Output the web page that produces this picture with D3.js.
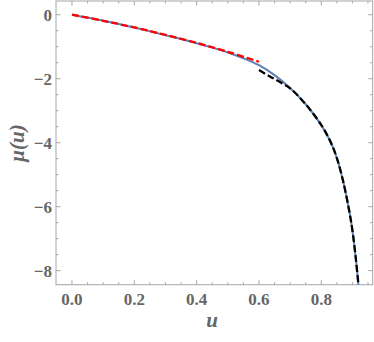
<!DOCTYPE html>
<html>
<head>
<meta charset="utf-8">
<script src="https://cdn.jsdelivr.net/npm/d3@7"></script>
<style>
  body { margin: 0; background: #fff; }
  svg { display: block; }
</style>
</head>
<body>
<div id="chart"></div>
<script>
// values
const uFull = [0, 0.05, 0.1, 0.15, 0.2, 0.25, 0.3, 0.35, 0.4, 0.45, 0.5, 0.55, 0.6, 0.65, 0.7, 0.75, 0.8, 0.83, 0.85, 0.87, 0.89, 0.9, 0.91, 0.92, 0.925];
const muFull = [0, -0.09, -0.19, -0.29, -0.40, -0.52, -0.64, -0.76, -0.89, -1.03, -1.18, -1.36, -1.58, -1.89, -2.29, -2.8, -3.45, -3.98, -4.48, -5.2, -6.15, -6.75, -7.55, -8.55, -9.3];

const uSmall = [0, 0.1, 0.2, 0.3, 0.4, 0.5, 0.6];
const muSmall = [0, -0.19, -0.40, -0.63, -0.88, -1.16, -1.47];

const uLarge = [0.6, 0.635, 0.67, 0.7, 0.75, 0.8, 0.83, 0.85, 0.87, 0.89, 0.9, 0.91, 0.92, 0.925];
const muLarge = [-1.73, -1.93, -2.12, -2.3, -2.8, -3.45, -3.98, -4.48, -5.2, -6.15, -6.75, -7.55, -8.55, -9.3];

const xTicks = [0, 0.2, 0.4, 0.6, 0.8];
const yTicks = [-8, -6, -4, -2, 0];

const W = 374, H = 342;
const margin = { top: 1, right: 1.3, bottom: 57.3, left: 56 };
const w = W - margin.left - margin.right;
const h = H - margin.top - margin.bottom;

const x = d3.scaleLinear().domain([-0.0513, 0.965]).range([0, w]);
const y = d3.scaleLinear().domain([0.428, -8.44]).range([0, h]);

const svg = d3.select("#chart").append("svg").attr("width", W).attr("height", H);
const g = svg.append("g").attr("transform", `translate(${margin.left},${margin.top})`);

svg.append("defs").append("clipPath").attr("id", "clip")
  .append("rect").attr("width", w).attr("height", h);

const frameColor = "#a6a6a6";
const labelColor = "#666";
const fmtNum = v => (v < 0 ? "\u2212" : "") + Math.abs(v);

// frame
g.append("rect").attr("width", w).attr("height", h)
  .attr("fill", "none").attr("stroke", frameColor).attr("stroke-width", 1);

// ticks (inward, on all four sides)
const xMinor = d3.range(0, 0.96, 0.05).filter(v => !xTicks.some(t => Math.abs(t - v) < 1e-6));
const yMinor = d3.range(0, -8.5, -0.5).filter(v => !yTicks.some(t => Math.abs(t - v) < 1e-6));

const tickG = g.append("g").attr("stroke", frameColor).attr("stroke-width", 1);
const xt = [...xTicks.map(v => [v, 4.5]), ...xMinor.map(v => [v, 2.5])];
const yt = [...yTicks.map(v => [v, 4.5]), ...yMinor.map(v => [v, 2.5])];
xt.forEach(([v, len]) => {
  tickG.append("line").attr("x1", x(v)).attr("x2", x(v)).attr("y1", h).attr("y2", h - len);
  tickG.append("line").attr("x1", x(v)).attr("x2", x(v)).attr("y1", 0).attr("y2", len);
});
yt.forEach(([v, len]) => {
  tickG.append("line").attr("y1", y(v)).attr("y2", y(v)).attr("x1", 0).attr("x2", len);
  tickG.append("line").attr("y1", y(v)).attr("y2", y(v)).attr("x1", w).attr("x2", w - len);
});

// tick labels
const tickFont = "'Liberation Serif', 'Times New Roman', serif";
g.selectAll(".xlab").data(xTicks).join("text")
  .attr("x", d => x(d)).attr("y", h + 20.5)
  .attr("text-anchor", "middle")
  .attr("font-family", tickFont).attr("font-weight", "bold").attr("font-size", 17)
  .attr("fill", labelColor)
  .text(d => d.toFixed(1));

g.selectAll(".ylab").data(yTicks).join("text")
  .attr("x", -4).attr("y", d => y(d)).attr("dy", "0.35em")
  .attr("text-anchor", "end")
  .attr("font-family", tickFont).attr("font-weight", "bold").attr("font-size", 17)
  .attr("fill", labelColor)
  .text(fmtNum);

// axis titles
svg.append("text")
  .attr("x", 212).attr("y", 327)
  .attr("text-anchor", "middle")
  .attr("font-family", tickFont).attr("font-weight", "bold").attr("font-style", "italic")
  .attr("font-size", 21).attr("fill", labelColor)
  .text("u");

svg.append("text")
  .attr("transform", "translate(24,143) rotate(-90)")
  .attr("text-anchor", "middle")
  .attr("font-family", tickFont).attr("font-weight", "bold").attr("font-style", "italic")
  .attr("font-size", 21).attr("fill", labelColor)
  .text("\u03bc(u)");

// curves
const line = d3.line().x(d => x(d[0])).y(d => y(d[1])).curve(d3.curveCatmullRom);
const plot = g.append("g").attr("clip-path", "url(#clip)");

plot.append("path")
  .attr("d", line(d3.zip(uFull, muFull)))
  .attr("fill", "none").attr("stroke", "#5e81b5").attr("stroke-width", 2);

plot.append("path")
  .attr("d", line(d3.zip(uSmall, muSmall)))
  .attr("fill", "none").attr("stroke", "#ff0000").attr("stroke-width", 2.3)
  .attr("stroke-dasharray", "7,3");

plot.append("path")
  .attr("d", line(d3.zip(uLarge, muLarge)))
  .attr("fill", "none").attr("stroke", "#000").attr("stroke-width", 2.3)
  .attr("stroke-dasharray", "7,3");
</script>
</body>
</html>
